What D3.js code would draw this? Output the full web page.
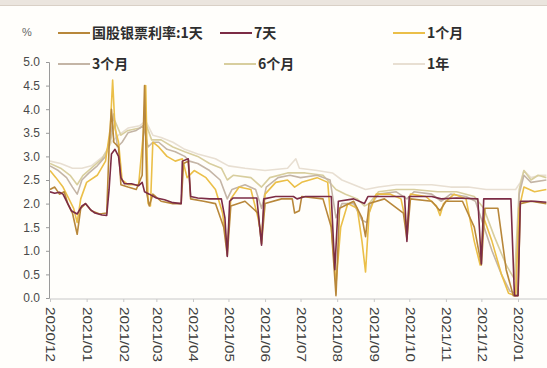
<!DOCTYPE html>
<html>
<head>
<meta charset="utf-8">
<script src="https://cdn.jsdelivr.net/npm/d3@7"></script>
<style>
  html, body { margin: 0; padding: 0; background: #fffefb; }
  svg { display: block; }
</style>
</head>
<body>
<svg id="chart" width="547" height="368"></svg>
<script>
// Interbank bill rates (%), by tenor
const monthTicks = ["2020-12-01","2021-01-01","2021-02-01","2021-03-01","2021-04-01","2021-05-01","2021-06-01","2021-07-01","2021-08-01","2021-09-01","2021-10-01","2021-11-01","2021-12-01","2022-01-01"];
const yTicks = [0, 0.5, 1, 1.5, 2, 2.5, 3, 3.5, 4, 4.5, 5];
const seriesNames = ["国股银票利率:1天", "7天", "1个月", "3个月", "6个月", "1年"];
const seriesColors = ["#b8873a", "#7c2c45", "#ebbf48", "#c4b5a6", "#d8ce9e", "#e8dfd2"];

const rate1d = [["2020-12-01",2.3],["2020-12-05",2.35],["2020-12-09",2.2],["2020-12-13",2.25],["2020-12-16",2.0],["2020-12-20",1.8],["2020-12-24",1.35],["2020-12-27",1.9],["2020-12-31",2.0],["2021-01-05",1.85],["2021-01-12",1.78],["2021-01-18",1.8],["2021-01-20",3.2],["2021-01-22",4.0],["2021-01-24",3.3],["2021-01-28",3.2],["2021-01-30",2.4],["2021-02-05",2.35],["2021-02-12",2.3],["2021-02-17",2.6],["2021-02-19",4.5],["2021-02-21",2.2],["2021-02-23",1.95],["2021-02-26",2.2],["2021-03-05",2.05],["2021-03-15",2.0],["2021-03-22",2.0],["2021-03-24",2.85],["2021-03-28",2.9],["2021-03-30",2.1],["2021-04-10",2.05],["2021-04-20",2.0],["2021-04-27",1.5],["2021-04-30",0.9],["2021-05-03",1.95],["2021-05-15",2.05],["2021-05-26",1.8],["2021-05-29",1.15],["2021-06-01",2.0],["2021-06-15",2.1],["2021-06-24",2.1],["2021-06-26",1.8],["2021-06-30",1.85],["2021-07-02",2.15],["2021-07-20",2.1],["2021-07-27",1.5],["2021-07-31",0.05],["2021-08-03",1.9],["2021-08-15",2.05],["2021-08-22",1.7],["2021-08-25",1.3],["2021-08-28",2.0],["2021-09-10",2.1],["2021-09-26",1.8],["2021-09-29",1.25],["2021-10-02",2.1],["2021-10-20",2.05],["2021-10-27",1.85],["2021-11-01",2.05],["2021-11-15",2.05],["2021-11-25",1.5],["2021-12-01",0.7],["2021-12-04",1.9],["2021-12-15",1.9],["2021-12-22",0.6],["2021-12-28",0.05],["2022-01-01",0.05],["2022-01-03",2.0],["2022-01-12",2.05],["2022-01-25",2.0]];

const rate7d = [["2020-12-01",2.25],["2020-12-05",2.22],["2020-12-09",2.24],["2020-12-12",2.2],["2020-12-16",2.0],["2020-12-19",1.85],["2020-12-24",1.78],["2020-12-28",1.95],["2020-12-31",2.0],["2021-01-04",1.88],["2021-01-08",1.8],["2021-01-14",1.76],["2021-01-18",1.75],["2021-01-20",2.3],["2021-01-22",3.05],["2021-01-25",3.15],["2021-01-28",3.0],["2021-01-30",2.55],["2021-02-02",2.42],["2021-02-08",2.42],["2021-02-14",2.38],["2021-02-17",2.45],["2021-02-19",2.25],["2021-02-23",2.2],["2021-03-01",2.12],["2021-03-08",2.08],["2021-03-15",2.02],["2021-03-22",2.0],["2021-03-23",2.9],["2021-03-28",2.95],["2021-03-30",2.15],["2021-04-05",2.12],["2021-04-15",2.1],["2021-04-25",2.1],["2021-04-28",1.7],["2021-04-30",0.88],["2021-05-02",2.05],["2021-05-05",2.12],["2021-05-25",2.12],["2021-05-29",1.12],["2021-05-31",2.1],["2021-06-10",2.15],["2021-06-25",2.15],["2021-06-28",2.1],["2021-07-05",2.15],["2021-07-27",2.15],["2021-07-30",0.6],["2021-08-02",2.05],["2021-08-15",2.1],["2021-08-24",2.0],["2021-08-27",2.15],["2021-09-10",2.15],["2021-09-27",2.15],["2021-09-29",1.2],["2021-10-01",2.15],["2021-10-20",2.15],["2021-10-28",2.1],["2021-11-10",2.12],["2021-11-28",2.1],["2021-12-01",0.72],["2021-12-03",2.1],["2021-12-26",2.1],["2021-12-29",0.05],["2022-01-01",0.05],["2022-01-03",2.05],["2022-01-15",2.05],["2022-01-25",2.03]];

const rate1m = [["2020-12-01",2.7],["2020-12-06",2.55],["2020-12-12",2.35],["2020-12-17",2.1],["2020-12-21",1.9],["2020-12-24",1.6],["2020-12-27",2.1],["2021-01-01",2.45],["2021-01-10",2.6],["2021-01-17",2.9],["2021-01-21",3.6],["2021-01-23",4.62],["2021-01-25",3.6],["2021-01-28",3.3],["2021-01-31",2.5],["2021-02-05",2.4],["2021-02-14",2.4],["2021-02-18",3.5],["2021-02-20",4.5],["2021-02-22",2.0],["2021-02-24",1.95],["2021-02-26",3.3],["2021-03-03",3.2],["2021-03-10",3.0],["2021-03-17",2.9],["2021-03-23",2.95],["2021-03-27",2.55],["2021-04-02",2.7],["2021-04-12",2.55],["2021-04-20",2.3],["2021-04-26",1.8],["2021-04-30",1.05],["2021-05-03",2.1],["2021-05-10",2.35],["2021-05-20",2.3],["2021-05-26",1.7],["2021-05-29",1.3],["2021-06-01",2.2],["2021-06-10",2.45],["2021-06-20",2.5],["2021-06-26",2.35],["2021-07-02",2.45],["2021-07-15",2.55],["2021-07-24",2.45],["2021-07-28",1.2],["2021-07-31",0.3],["2021-08-04",1.5],["2021-08-10",2.0],["2021-08-18",1.9],["2021-08-22",1.2],["2021-08-25",0.55],["2021-08-28",1.8],["2021-09-03",2.2],["2021-09-15",2.2],["2021-09-24",2.1],["2021-09-29",1.5],["2021-10-02",2.2],["2021-10-15",2.15],["2021-10-24",1.95],["2021-10-27",1.75],["2021-10-30",2.0],["2021-11-08",2.2],["2021-11-18",2.1],["2021-11-25",1.2],["2021-11-30",0.7],["2021-12-03",1.7],["2021-12-10",1.2],["2021-12-18",0.5],["2021-12-24",0.1],["2021-12-30",0.05],["2022-01-02",1.9],["2022-01-06",2.35],["2022-01-15",2.25],["2022-01-25",2.3]];

const rate3m = [["2020-12-01",2.8],["2020-12-08",2.7],["2020-12-15",2.55],["2020-12-20",2.35],["2020-12-24",2.2],["2020-12-28",2.5],["2021-01-03",2.65],["2021-01-10",2.8],["2021-01-17",3.0],["2021-01-21",3.4],["2021-01-24",3.9],["2021-01-27",3.2],["2021-01-31",3.3],["2021-02-05",3.5],["2021-02-12",3.55],["2021-02-18",3.65],["2021-02-22",3.2],["2021-02-26",3.3],["2021-03-03",3.3],["2021-03-10",3.15],["2021-03-17",3.1],["2021-03-25",3.0],["2021-03-29",2.9],["2021-04-05",2.85],["2021-04-15",2.7],["2021-04-24",2.5],["2021-04-30",2.1],["2021-05-04",2.3],["2021-05-15",2.4],["2021-05-24",2.3],["2021-05-29",1.9],["2021-06-02",2.35],["2021-06-12",2.55],["2021-06-22",2.6],["2021-07-01",2.55],["2021-07-15",2.6],["2021-07-26",2.5],["2021-07-31",1.7],["2021-08-05",2.0],["2021-08-15",2.0],["2021-08-22",1.65],["2021-08-26",1.6],["2021-08-30",2.0],["2021-09-05",2.2],["2021-09-20",2.25],["2021-09-29",2.1],["2021-10-05",2.25],["2021-10-20",2.2],["2021-10-28",2.05],["2021-11-05",2.2],["2021-11-18",2.15],["2021-11-26",2.05],["2021-12-02",1.6],["2021-12-10",1.0],["2021-12-18",0.5],["2021-12-25",0.15],["2021-12-30",0.1],["2022-01-02",2.2],["2022-01-06",2.6],["2022-01-12",2.45],["2022-01-25",2.5]];

const rate6m = [["2020-12-01",2.85],["2020-12-10",2.75],["2020-12-18",2.6],["2020-12-24",2.4],["2020-12-29",2.6],["2021-01-05",2.75],["2021-01-14",2.95],["2021-01-20",3.2],["2021-01-25",3.75],["2021-01-30",3.45],["2021-02-05",3.55],["2021-02-15",3.6],["2021-02-20",3.7],["2021-02-25",3.35],["2021-03-05",3.35],["2021-03-15",3.2],["2021-03-25",3.1],["2021-04-05",3.0],["2021-04-15",2.85],["2021-04-25",2.75],["2021-04-30",2.5],["2021-05-05",2.6],["2021-05-20",2.55],["2021-05-29",2.35],["2021-06-05",2.55],["2021-06-20",2.65],["2021-07-05",2.65],["2021-07-20",2.6],["2021-07-31",2.3],["2021-08-08",2.2],["2021-08-18",2.1],["2021-08-24",1.95],["2021-08-28",2.0],["2021-09-05",2.25],["2021-09-20",2.3],["2021-10-05",2.3],["2021-10-25",2.25],["2021-11-10",2.25],["2021-11-25",2.15],["2021-12-03",1.9],["2021-12-12",1.3],["2021-12-22",0.7],["2021-12-29",0.4],["2022-01-02",2.3],["2022-01-06",2.7],["2022-01-12",2.5],["2022-01-18",2.6],["2022-01-25",2.55]];

const rate1y = [["2020-12-01",2.9],["2020-12-10",2.85],["2020-12-20",2.75],["2020-12-28",2.75],["2021-01-05",2.8],["2021-01-15",3.0],["2021-01-22",3.3],["2021-01-28",3.45],["2021-02-05",3.6],["2021-02-15",3.65],["2021-02-20",3.75],["2021-02-26",3.45],["2021-03-05",3.4],["2021-03-15",3.3],["2021-03-25",3.15],["2021-04-05",3.05],["2021-04-20",2.95],["2021-05-01",2.8],["2021-05-15",2.75],["2021-06-01",2.7],["2021-06-20",2.75],["2021-06-27",2.95],["2021-06-30",2.75],["2021-07-15",2.7],["2021-07-28",2.65],["2021-08-05",2.5],["2021-08-15",2.4],["2021-08-25",2.3],["2021-09-05",2.35],["2021-09-20",2.4],["2021-10-05",2.4],["2021-10-20",2.4],["2021-11-05",2.35],["2021-11-20",2.35],["2021-12-05",2.3],["2021-12-20",2.3],["2021-12-30",2.3],["2022-01-03",2.45],["2022-01-06",2.7],["2022-01-12",2.55],["2022-01-20",2.6],["2022-01-25",2.6]];

const seriesData = [rate1d, rate7d, rate1m, rate3m, rate6m, rate1y];

const parse = d3.timeParse("%Y-%m-%d");
const svg = d3.select("#chart");
const W = 547, H = 368;
const plotLeft = 50, plotBottom = 298, plotTop = 62;

// page frame: thin band across the top
svg.append("rect").attr("x", 0).attr("y", 0).attr("width", W).attr("height", H).attr("fill", "#fffefb");
svg.append("rect").attr("x", 0).attr("y", 0).attr("width", W).attr("height", 5).attr("fill", "#ebe5de");
svg.append("line").attr("x1", 0).attr("x2", W).attr("y1", 5.5).attr("y2", 5.5).attr("stroke", "#d9d0c6").attr("stroke-width", 1);

const x = d3.scaleTime()
  .domain([parse("2020-12-01"), parse("2022-01-01")])
  .range([plotLeft, 518]);
const y = d3.scaleLinear().domain([0, 5]).range([plotBottom, plotTop]);

// y axis
const yAxis = svg.append("g").attr("transform", `translate(${plotLeft - 1},0)`)
  .call(d3.axisLeft(y).tickValues(yTicks).tickFormat(d3.format(".1f")).tickSize(3).tickPadding(6));
yAxis.select(".domain").attr("stroke", "#9a9a9a");
yAxis.selectAll(".tick line").attr("stroke", "#9a9a9a");
yAxis.selectAll("text").attr("fill", "#4a4a4a").style("font-family", "Arial, 'Liberation Sans', sans-serif").style("font-size", "12px");

// x axis
const xAxis = svg.append("g").attr("transform", `translate(0,${plotBottom + 1})`)
  .call(d3.axisBottom(x).tickValues(monthTicks.map(parse)).tickFormat(d3.timeFormat("%Y/%m")).tickSize(3).tickSizeOuter(0));
xAxis.select(".domain").attr("stroke", "#c8c8c8").attr("d", `M${plotLeft},0H${W}`);
xAxis.selectAll(".tick line").attr("stroke", "#c8c8c8");
xAxis.selectAll("text")
  .attr("fill", "#3e3e3e")
  .style("font-family", "Arial, 'Liberation Sans', sans-serif")
  .style("font-size", "12px")
  .attr("text-anchor", "start")
  .attr("dy", "0.35em")
  .attr("transform", "translate(0,8) rotate(90)")
  .attr("x", 0).attr("y", 0)
  .attr("textLength", 55).attr("lengthAdjust", "spacingAndGlyphs");

// lines
svg.append("clipPath").attr("id", "plotClip")
  .append("rect").attr("x", plotLeft).attr("y", 0).attr("width", W - plotLeft).attr("height", plotBottom + 2);

const line = d3.line().x(d => x(parse(d[0]))).y(d => y(d[1]));
const drawOrder = [5, 4, 3, 2, 0, 1];
const plot = svg.append("g").attr("clip-path", "url(#plotClip)");
drawOrder.forEach(i => {
  plot.append("path")
    .datum(seriesData[i])
    .attr("fill", "none")
    .attr("stroke", seriesColors[i])
    .attr("stroke-width", 1.6)
    .attr("stroke-linejoin", "round")
    .attr("d", line);
});

// unit label
svg.append("text").attr("x", 27).attr("y", 36).attr("text-anchor", "middle")
  .attr("fill", "#666").style("font-family", "Arial, sans-serif").style("font-size", "11px").text("%");

// legend: two rows of three
const legendPos = [
  [58, 33], [220, 33], [393, 33],
  [58, 64], [224, 64], [393, 64]
];
seriesNames.forEach((name, i) => {
  const [lx, ly] = legendPos[i];
  const g = svg.append("g").attr("transform", `translate(${lx},${ly})`);
  g.append("line").attr("x1", 0).attr("x2", 32).attr("y1", 0).attr("y2", 0)
    .attr("stroke", seriesColors[i]).attr("stroke-width", 2);
  g.append("text").attr("x", 34).attr("y", 0).attr("dy", "0.35em")
    .attr("fill", "#2e2e2e")
    .style("font-family", "'Noto Sans CJK SC', 'Noto Sans', sans-serif")
    .style("font-weight", "bold")
    .style("font-size", "14px")
    .text(name);
});
</script>
</body>
</html>
